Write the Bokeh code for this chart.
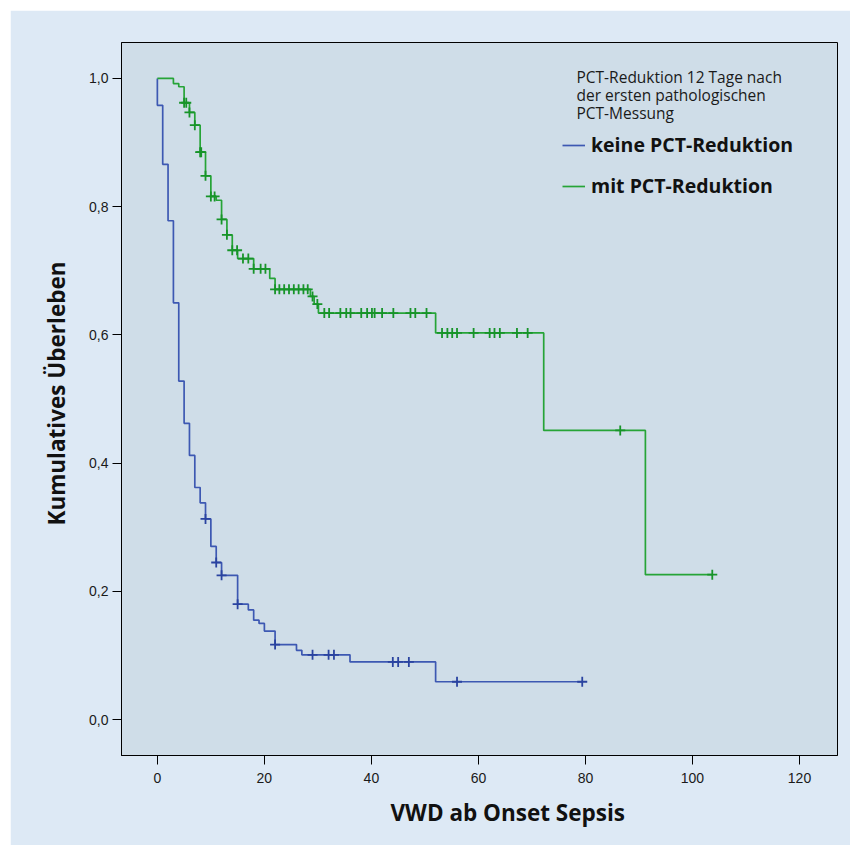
import numpy as np
from bokeh.plotting import figure
from bokeh.models import (FixedTicker, CustomJSTickFormatter, Legend, LegendItem,
                          Label, Range1d, Title)
from bokeh.embed import file_html
from bokeh.resources import INLINE

# ---------------- data ----------------
x_ticks = [0, 20, 40, 60, 80, 100, 120]
y_ticks = [0.0, 0.2, 0.4, 0.6, 0.8, 1.0]

blue_time = [0, 0, 1, 2, 3, 4, 5, 6, 7, 8, 9, 10, 11, 12, 15, 17, 18, 19, 20,
             22, 26, 27, 36, 52, 79.4]
blue_surv = [1.0, 0.958, 0.866, 0.778, 0.650, 0.528, 0.462, 0.412, 0.362, 0.338,
             0.313, 0.270, 0.245, 0.225, 0.180, 0.171, 0.155, 0.150, 0.138,
             0.117, 0.108, 0.101, 0.090, 0.059, 0.059]
blue_censored = [9, 11, 12, 15, 22, 29, 32, 33, 44, 45, 47, 56, 79.4]

green_time = [0, 3, 4, 5, 6, 7, 8, 9, 10, 11, 12, 13, 14, 15, 18, 21, 22,
              28.6, 29.3, 30.1, 52, 72.2, 91.2, 103.7]
green_surv = [1.0, 0.992, 0.987, 0.962, 0.947, 0.927, 0.885, 0.848, 0.816,
              0.810, 0.780, 0.756, 0.732, 0.719, 0.703, 0.688, 0.671, 0.660,
              0.648, 0.634, 0.603, 0.451, 0.226, 0.226]
green_censored = [5, 5.4, 6, 7, 8, 8.2, 9, 10, 10.7, 12, 13, 14, 14.9, 16, 17,
                  18, 19.3, 20.2, 22, 22.8, 23.7, 24.6, 25.5, 26.4, 27.3, 28.1,
                  29, 29.9, 31.2, 32.1, 34.2, 35.3, 36.1, 38.1, 39.2, 40.1,
                  40.6, 42.0, 44.1, 47.3, 48.2, 50.3, 53.2, 54.2, 55.1, 56,
                  59.1, 62.1, 63, 64, 67.2, 69.2, 86.5, 103.7]

series_names = ["keine PCT-Reduktion", "mit PCT-Reduktion"]
legend_title = ["PCT-Reduktion 12 Tage nach", "der ersten pathologischen",
                "PCT-Messung"]
x_title = "VWD ab Onset Sepsis"
y_title = "Kumulatives Überleben"

BLUE_LINE, BLUE_MARK = "#3d58b2", "#2a43a0"
GREEN_LINE, GREEN_MARK = "#26a437", "#179429"


def level_at(times, surv, t_c):
    t = np.asarray(times, dtype=float)
    s = np.asarray(surv, dtype=float)
    idx = np.searchsorted(t, np.asarray(t_c, dtype=float), side="right") - 1
    return s[idx]


p = figure(width=840, height=835, output_backend="svg", toolbar_location=None,
           x_range=Range1d(-6.7, 127.1), y_range=Range1d(-0.056, 1.056),
           min_border_left=111, min_border_right=13, min_border_top=32,
           min_border_bottom=90)
p.margin = (10, 7, 11, 10)
p.background_fill_color = "#cfdde8"
p.border_fill_color = "#dde9f5"
p.outline_line_color = "black"
p.outline_line_width = 1
p.xgrid.visible = False
p.ygrid.visible = False

r_blue = p.step(blue_time, blue_surv, mode="after", line_color=BLUE_LINE,
                line_width=1.7)
r_green = p.step(green_time, green_surv, mode="after", line_color=GREEN_LINE,
                 line_width=1.7)
p.scatter(blue_censored, level_at(blue_time, blue_surv, blue_censored),
          marker="cross", size=10, line_color=BLUE_MARK, line_width=1.8)
p.scatter(green_censored, level_at(green_time, green_surv, green_censored),
          marker="cross", size=10, line_color=GREEN_MARK, line_width=1.8)

# axes
for ax in (p.xaxis[0], p.yaxis[0]):
    ax.major_tick_in = 0
    ax.major_tick_out = 9
    ax.minor_tick_line_color = None
    ax.axis_line_color = "black"
    ax.major_tick_line_color = "black"
    ax.major_label_text_font = "Liberation Sans"
    ax.major_label_text_font_size = "14px"
    ax.major_label_text_color = "#1a1a1a"

p.xaxis.ticker = FixedTicker(ticks=x_ticks)
p.yaxis.ticker = FixedTicker(ticks=y_ticks)
p.yaxis.formatter = CustomJSTickFormatter(
    code="return tick.toFixed(1).replace('.', ',');")
p.xaxis.major_label_standoff = 8
p.yaxis.major_label_standoff = 4

# axis titles as side titles (allow an offset like the reference)
p.add_layout(Title(text=y_title, align="left", offset=230, standoff=30,
                   text_font="Open Sans", text_font_style="bold",
                   text_font_size="22.5px", text_color="#111111"), "left")
p.add_layout(Title(text=x_title, align="left", offset=269, standoff=19,
                   text_font="Open Sans", text_font_style="bold",
                   text_font_size="22.5px", text_color="#111111"), "below")

# legend title lines
for i, line in enumerate(legend_title):
    p.add_layout(Label(x=455, y=679 - 18 * i, x_units="screen",
                       y_units="screen", text=line, text_font="Open Sans",
                       text_font_size="15.5px", text_color="#1a1a1a",
                       text_baseline="middle"))

legend = Legend(items=[LegendItem(label=series_names[0], renderers=[r_blue]),
                       LegendItem(label=series_names[1], renderers=[r_green])],
                location=(441, 556), orientation="vertical")
legend.label_text_font = "Open Sans"
legend.label_text_font_style = "bold"
legend.label_text_font_size = "19.5px"
legend.label_text_color = "#111111"
legend.glyph_width = 23
legend.glyph_height = 24
legend.label_height = 24
legend.spacing = 14
legend.label_standoff = 6
legend.padding = 0
legend.margin = 0
legend.border_line_color = None
legend.background_fill_alpha = 0
p.add_layout(legend, "center")

open("out.html", "w").write(file_html(p, INLINE))
